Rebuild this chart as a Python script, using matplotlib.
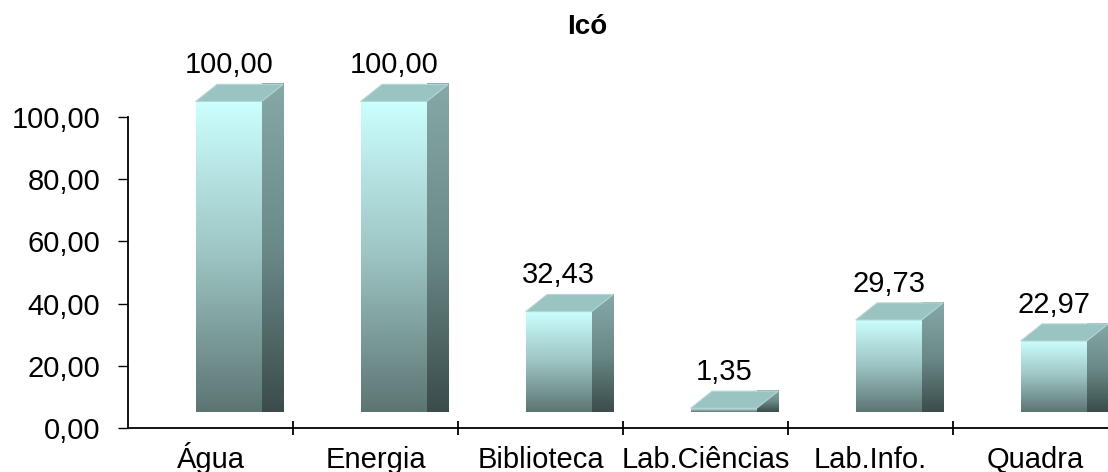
import numpy as np
import matplotlib.pyplot as plt
from matplotlib.patches import Polygon
from matplotlib.colors import LinearSegmentedColormap

plt.rcParams['font.family'] = ['Liberation Sans', 'DejaVu Sans']

categories = ['Água', 'Energia', 'Biblioteca', 'Lab.Ciências', 'Lab.Info.', 'Quadra']
values = [100.00, 100.00, 32.43, 1.35, 29.73, 22.97]
title = 'Icó'

W, H = 1108, 472
fig = plt.figure(figsize=(W / 100, H / 100), dpi=100)
ax = fig.add_axes([128 / W, 44 / H, 990 / W, 311 / H])
ax.set_xlim(-0.5, 5.5)
ax.set_ylim(0, 100)

# 3d look
base = 5.0
x0, x1 = -0.09, 0.31
dx, dy = 0.13, 5.5

front_cm = LinearSegmentedColormap.from_list('f', ['#5c7573', '#9cc4c2', '#ccffff'])
side_cm = LinearSegmentedColormap.from_list('s', ['#3b4c4b', '#6a8a88', '#86a8a6'])
grad = np.linspace(0, 1, 256).reshape(-1, 1)


def shade(poly, cmap, ylo, yhi, xl, xr):
    ax.add_patch(poly)
    im = ax.imshow(grad, cmap=cmap, origin='lower', aspect='auto',
                   extent=[xl, xr, ylo, yhi], zorder=2, clip_on=False)
    im.set_clip_path(poly)


for i, v in enumerate(values):
    a, b = i + x0, i + x1
    y0, y1 = base, base + v
    front = Polygon([(a, y0), (b, y0), (b, y1), (a, y1)], closed=True,
                    facecolor='none', edgecolor='none', clip_on=False)
    side = Polygon([(b, y0), (b + dx, y0 + dy), (b + dx, y1 + dy), (b, y1)],
                   closed=True, facecolor='none', edgecolor='none', clip_on=False)
    top = Polygon([(a, y1), (b, y1), (b + dx, y1 + dy), (a + dx, y1 + dy)],
                  closed=True, facecolor='#99c4c2', edgecolor='#b5d6d4',
                  lw=0.8, zorder=3, clip_on=False)
    shade(front, front_cm, y0, y1, a, b)
    shade(side, side_cm, y0, y1 + dy, b, b + dx)
    ax.add_patch(top)
    ax.annotate(f'{v:.2f}'.replace('.', ','), ((a + b) / 2, y1 + dy),
                xytext=(0, 8), textcoords='offset points', ha='center',
                va='baseline', fontsize=21, annotation_clip=False)

for s in ['top', 'right']:
    ax.spines[s].set_visible(False)
ax.spines['left'].set_linewidth(1.3)
ax.spines['bottom'].set_linewidth(1.3)

yt = np.arange(0, 101, 20)
ax.set_yticks(yt)
ax.set_yticklabels([f'{t:.2f}'.replace('.', ',') for t in yt], fontsize=21)
ax.tick_params(axis='y', length=7, width=1, pad=13)

ax.set_xticks(range(len(categories)))
ax.set_xticklabels(categories, fontsize=21)
for lbl in ax.get_xticklabels():
    lbl.set_va('baseline')
ax.set_xticks(np.arange(0.5, 5.5, 1), minor=True)
ax.tick_params(axis='x', which='major', length=0, pad=29)
ax.tick_params(axis='x', which='minor', direction='inout', length=10, width=1.3)

fig.text(587 / W, 1 - 27 / H, title, ha='center', va='center',
         fontsize=20, fontweight='bold')

fig.savefig('out.png', dpi=100)
